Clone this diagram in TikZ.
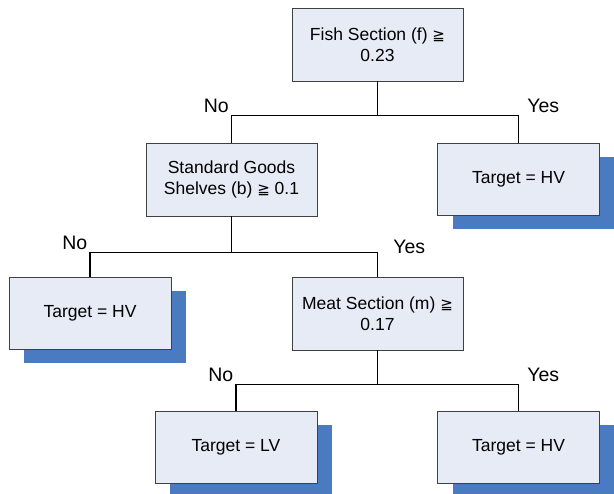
\documentclass[tikz,border=0pt]{standalone}
\usepackage{fontspec}
\setmainfont{Liberation Sans}
\newfontfamily\symf{DejaVu Sans}
\usepackage{tikz}
\usetikzlibrary{positioning,shadows}

\definecolor{boxfill}{RGB}{230,235,246}
\definecolor{boxline}{RGB}{64,64,64}
\definecolor{shadowblue}{RGB}{74,122,192}

\newcommand{\geqq}{{\symf\fontsize{15}{18}\selectfont ≧}}

\begin{document}
\begin{tikzpicture}[on grid,inner sep=2pt,
                    font=\fontsize{17.5}{21}\selectfont]
  \tikzstyle{test}=[draw=boxline,line width=0.8pt,fill=boxfill,align=center,
                    minimum width=171pt,minimum height=73pt,
                    drop shadow={shadow xshift=15pt,shadow yshift=-14pt,
                                 fill=shadowblue,opacity=1}]
  \tikzstyle{test0}=[draw=boxline,line width=0.8pt,fill=boxfill,align=center,
                    minimum width=171pt,minimum height=73pt]
  \tikzstyle{leaf}=[test,minimum width=162pt,minimum height=72pt]
  \tikzstyle{branch}=[line width=1.6pt,black]
  \tikzstyle{answer}=[font=\fontsize{19.5}{23}\selectfont]

  \useasboundingbox (0,0) rectangle (614pt,-494pt);

  \node[test0]   (fish)  at (377.5pt,-44.5pt)  {Fish Section (f) \geqq\\0.23};
  \node[test0]   (shelf) [below left=135pt and 146pt of fish]  {Standard Goods\\Shelves (b) \geqq\ 0.1};
  \node[leaf]    (hvA)   [below right=135pt and 141pt of fish] {Target = HV};
  \node[test0]   (meat)  [below right=134pt and 146pt of shelf] {Meat Section (m) \geqq\\0.17};
  \node[leaf]    (hvB)   [below left=134pt and 141.5pt of shelf] {Target = HV};
  \node[leaf]    (lv)    [below left=133.5pt and 141.5pt of meat] {Target = LV};
  \node[leaf]    (hvC)   [below right=133.5pt and 141pt of meat] {Target = HV};

  % splits
  \draw[branch] (fish.south) -- ++(0,-34pt) coordinate (splitA);
  \draw[branch] (shelf.north) |- node[answer,above left] {No} (splitA)
                -| node[answer,above right,xshift=6pt] {Yes} (hvA.north);

  \draw[branch] (shelf.south) -- ++(0,-36pt) coordinate (splitB);
  \draw[branch] (hvB.north) |- node[answer,above left] {No} (splitB)
                -| node[answer,above right,xshift=13pt,yshift=-4pt] {Yes} (meat.north);

  \draw[branch] (meat.south) -- ++(0,-34pt) coordinate (splitC);
  \draw[branch] (lv.north) |- node[answer,above left] {No} (splitC)
                -| node[answer,above right,xshift=6pt] {Yes} (hvC.north);
\end{tikzpicture}
\end{document}
